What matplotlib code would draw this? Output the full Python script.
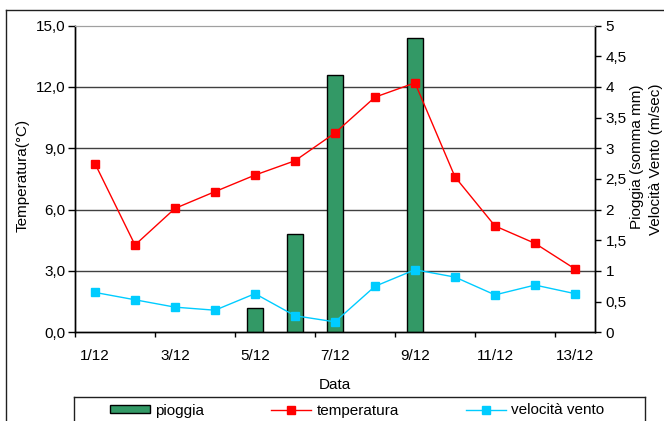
"""
Weather chart for 1-13 December: daily rain as bars, temperature and
wind speed as lines, with temperature on the left axis and rain / wind
sharing the right axis.
"""

import matplotlib
matplotlib.use("Agg")
import matplotlib.pyplot as plt
from matplotlib.lines import Line2D

plt.rcParams["font.family"] = ["Liberation Sans", "DejaVu Sans"]
plt.rcParams["font.size"] = 11

# Data
giorni = ["1/12", "2/12", "3/12", "4/12", "5/12", "6/12", "7/12",
          "8/12", "9/12", "10/12", "11/12", "12/12", "13/12"]
pioggia = [0, 0, 0, 0, 0.4, 1.6, 4.2, 0, 4.8, 0, 0, 0, 0]
temperatura = [8.25, 4.27, 6.06, 6.88, 7.69, 8.39, 9.75,
               11.5, 12.2, 7.6, 5.2, 4.35, 3.1]
vento = [0.65, 0.53, 0.41, 0.36, 0.63, 0.27, 0.17,
         0.75, 1.02, 0.90, 0.61, 0.77, 0.63]

temp_ticks = [0, 3, 6, 9, 12, 15]
temp_labels = ["0,0", "3,0", "6,0", "9,0", "12,0", "15,0"]
dx_ticks = [0, 0.5, 1, 1.5, 2, 2.5, 3, 3.5, 4, 4.5, 5]
dx_labels = ["0", "0,5", "1", "1,5", "2", "2,5", "3", "3,5", "4", "4,5", "5"]

W, H = 664, 421
fig = plt.figure(figsize=(W / 100, H / 100), dpi=100)

# plot area in pixel coords: x 75..595, y 25.6..332.3
pos = [75 / W, 1 - 332.3 / H, 520 / W, 306.7 / H]
ax = fig.add_axes(pos)          # temperature scale, gridlines
ax2 = ax.twinx()                # rain / wind scale
ax_t = fig.add_axes(pos, sharex=ax, sharey=ax)   # temperature line on top
ax_t.axis("off")
ax_t.patch.set_visible(False)

x = list(range(len(giorni)))

# gridlines on the temperature axis
for t in temp_ticks[1:-1]:
    ax.axhline(t, color="#404040", linewidth=1.0, zorder=0)

barre = ax2.bar(x, pioggia, width=0.4, color="#339966",
                edgecolor="black", linewidth=1.0, label="pioggia")
# no outline stub for dry days
for b, v in zip(barre, pioggia):
    if v == 0:
        b.set_linewidth(0)
barra_legenda = barre[pioggia.index(max(pioggia))]

(l_vento,) = ax2.plot(x, vento, color="#00CCFF", marker="s", markersize=6,
                      linewidth=1.0, label="velocità vento")
(l_temp,) = ax_t.plot(x, temperatura, color="#FF0000", marker="s",
                      markersize=6, linewidth=1.0, label="temperatura")

ax.set_xlim(-0.5, len(giorni) - 0.5)
ax.set_ylim(0, 15)
ax2.set_ylim(0, 5)

ax.set_yticks(temp_ticks)
ax.set_yticklabels(temp_labels)
ax2.set_yticks(dx_ticks)
ax2.set_yticklabels(dx_labels)

# category boundaries as tick marks, labels on every other day
ax.set_xticks([i - 0.5 for i in range(0, len(giorni), 2)])
ax.set_xticklabels([])
ax.set_xticks(x[::2], minor=True)
ax.set_xticklabels(giorni[::2], minor=True)
ax.tick_params(axis="x", which="major", direction="out", length=3.5, width=1)
ax.tick_params(axis="x", which="minor", length=0, pad=12)
ax.tick_params(axis="y", direction="out", length=5, width=1, pad=2)
ax2.tick_params(axis="y", direction="out", length=4.5, width=1, pad=3)

for a in (ax, ax2):
    a.spines["top"].set_color("#a0a0a0")
    for s in ("left", "right", "bottom"):
        a.spines[s].set_color("black")
        a.spines[s].set_linewidth(1.0)

# axis titles
fig.text(22.5 / W, 1 - 175 / H, "Temperatura(°C)", rotation=90,
         ha="center", va="center")
fig.text(637 / W, 1 - 157 / H, "Pioggia (somma mm)", rotation=90,
         ha="center", va="center")
fig.text(656 / W, 1 - 159 / H, "Velocità Vento (m/sec)", rotation=90,
         ha="center", va="center")
fig.text(335 / W, 1 - 385 / H, "Data", ha="center", va="center")

# legend, with its own box that runs off the bottom edge
fig.legend([barra_legenda, l_temp, l_vento],
           ["pioggia", "temperatura", "velocità vento"],
           loc="center left", bbox_to_anchor=(110 / W, 1 - 410.5 / H),
           ncol=3, frameon=False, borderpad=0, borderaxespad=0,
           handlelength=2.6, handleheight=0.5, handletextpad=0.35,
           columnspacing=4.4)

box_l, box_r, box_t = 74 / W, 645 / W, 1 - 397 / H
for xs, ys in [((box_l, box_l), (box_t, -0.05)),
               ((box_l, box_r), (box_t, box_t)),
               ((box_r, box_r), (box_t, -0.05))]:
    fig.add_artist(Line2D(xs, ys, color="#202020", linewidth=1.0))

# outer chart border (left and top edges)
bx, by = 6 / W, 1 - 10 / H
fig.add_artist(Line2D((bx, bx), (-0.05, by), color="#202020", linewidth=1.0))
fig.add_artist(Line2D((bx, 1.05), (by, by), color="#202020", linewidth=1.0))

fig.savefig("out.png", dpi=100)
